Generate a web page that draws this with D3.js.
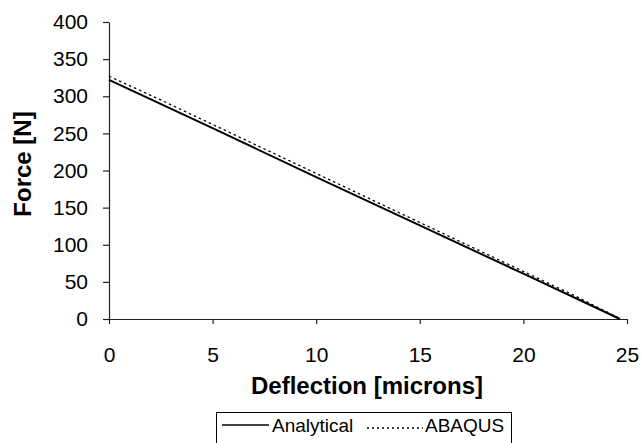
<!DOCTYPE html>
<html><head><meta charset="utf-8">
<script src="https://cdn.jsdelivr.net/npm/d3@7"></script>
<style>body{margin:0;background:#fff}svg{display:block}</style>
</head><body>
<svg id="c" width="642" height="443"></svg>
<script>
const xTicks = [0, 5, 10, 15, 20, 25];
const yTicks = [0, 50, 100, 150, 200, 250, 300, 350, 400];
const analyticalX = [0, 5, 10, 15, 20, 24.66];
const analyticalY = [322, 257, 191, 126, 61, 0];
const abaqusX = [0, 2.5, 5, 7.5, 10, 12.5, 15, 17.5, 20, 22.5, 24.7];
const abaqusY = [327, 295, 262, 229, 196, 163, 130, 97, 64, 31, 0];
const seriesNames = ["Analytical", "ABAQUS"];

const svg = d3.select("#c");
const x = d3.scaleLinear().domain([0, 25]).range([109, 627]);
const y = d3.scaleLinear().domain([0, 400]).range([319, 22]);
const font = "Liberation Sans, Arial, sans-serif";

// axes
const gx = svg.append("g").attr("transform", `translate(0,${y(0)})`)
  .call(d3.axisBottom(x).tickValues(xTicks).tickSize(5).tickPadding(23).tickSizeOuter(0));
const gy = svg.append("g").attr("transform", `translate(${x(0)},0)`)
  .call(d3.axisLeft(y).tickValues(yTicks).tickSize(6).tickPadding(15).tickSizeOuter(0));
[gx, gy].forEach(g => {
  g.select(".domain").attr("stroke", "#222").attr("stroke-width", 1.2);
  g.selectAll(".tick line").attr("stroke", "#222").attr("stroke-width", 1.2);
  g.selectAll(".tick text").attr("font-family", font).attr("font-size", 21).attr("fill", "#000");
});

// lines
const line = d3.line().x(d => x(d[0])).y(d => y(d[1]));
svg.append("path").datum(d3.zip(abaqusX, abaqusY)).attr("d", line)
  .attr("fill", "none").attr("stroke", "#000").attr("stroke-width", 1.3).attr("stroke-dasharray", "2.5,3");
svg.append("path").datum(d3.zip(analyticalX, analyticalY)).attr("d", line)
  .attr("fill", "none").attr("stroke", "#000").attr("stroke-width", 2);

// titles
svg.append("text").attr("x", 367).attr("y", 394).attr("text-anchor", "middle")
  .attr("font-family", font).attr("font-weight", "bold").attr("font-size", 24).text("Deflection [microns]");
svg.append("text").attr("transform", "translate(31,164) rotate(-90)").attr("text-anchor", "middle")
  .attr("font-family", font).attr("font-weight", "bold").attr("font-size", 24).text("Force [N]");

// legend
const lg = svg.append("g");
lg.append("rect").attr("x", 216.5).attr("y", 412.5).attr("width", 295).attr("height", 45)
  .attr("fill", "#fff").attr("stroke", "#000").attr("stroke-width", 1);
lg.append("line").attr("x1", 222).attr("x2", 269).attr("y1", 425).attr("y2", 425)
  .attr("stroke", "#000").attr("stroke-width", 1.5);
lg.append("text").attr("x", 272).attr("y", 432).attr("font-family", font).attr("font-size", 19).text(seriesNames[0]);
lg.append("line").attr("x1", 367).attr("x2", 423).attr("y1", 428).attr("y2", 428)
  .attr("stroke", "#000").attr("stroke-width", 1.5).attr("stroke-dasharray", "2,3");
lg.append("text").attr("x", 425).attr("y", 432).attr("font-family", font).attr("font-size", 19).text(seriesNames[1]);
</script>
</body></html>
